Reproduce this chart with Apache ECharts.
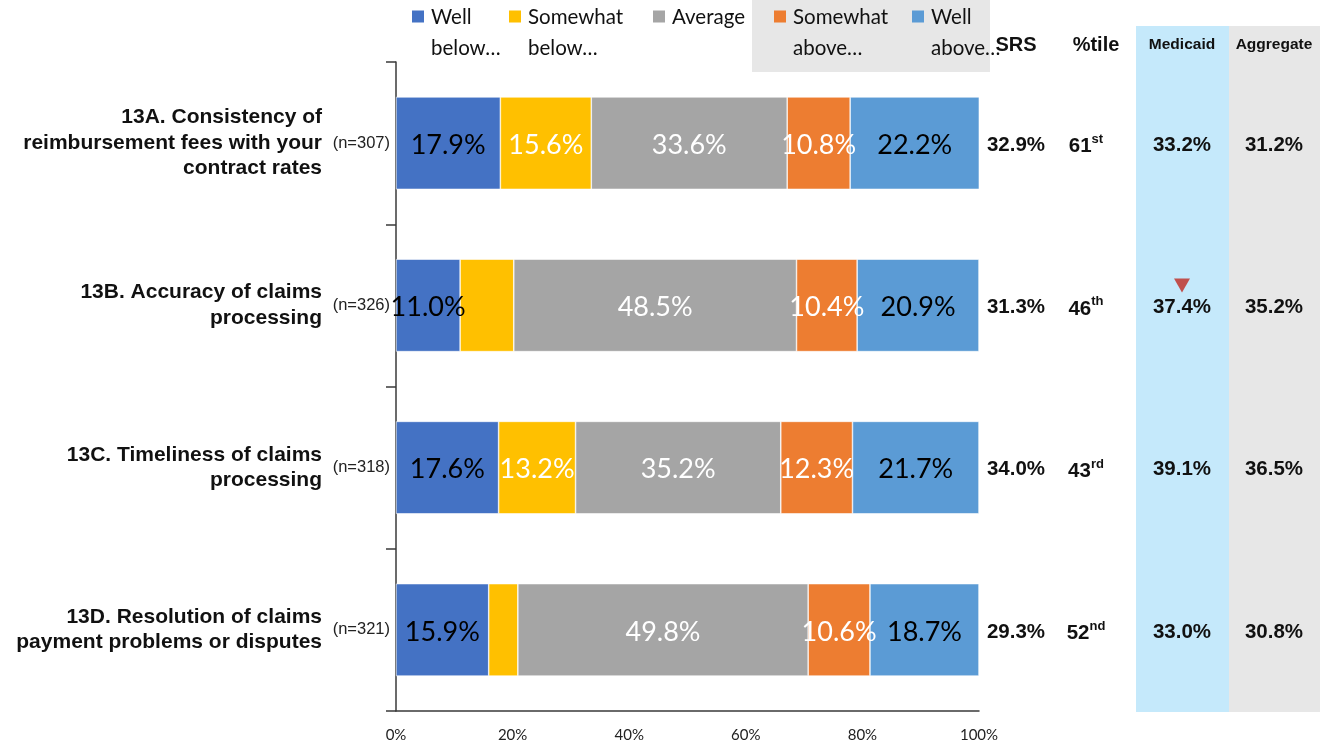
<!DOCTYPE html>
<html>
<head>
<meta charset="utf-8">
<script src="https://cdn.jsdelivr.net/npm/echarts@6/dist/echarts.min.js"></script>
<style>
html, body { margin: 0; padding: 0; background: #ffffff; }
#chart { width: 1320px; height: 745px; }
</style>
</head>
<body>
<div id="chart"></div>
<script>
// Question labels and sample sizes
const categories = [
  '13A. Consistency of\nreimbursement fees with your\ncontract rates',
  '13B. Accuracy of claims\nprocessing',
  '13C. Timeliness of claims\nprocessing',
  '13D. Resolution of claims\npayment problems or disputes'
];
const sampleSizes = ['(n=307)', '(n=326)', '(n=318)', '(n=321)'];

// Rating series (percent of respondents)
const seriesNames = ['Well below average', 'Somewhat below average', 'Average', 'Somewhat above average', 'Well above average'];
const legendLabels = ['Well\nbelow…', 'Somewhat\nbelow…', 'Average\n ', 'Somewhat\nabove…', 'Well\nabove…'];
const wellBelow = [17.9, 11.0, 17.6, 15.9];
const somewhatBelow = [15.6, 9.2, 13.2, 5.0];
const average = [33.6, 48.5, 35.2, 49.8];
const somewhatAbove = [10.8, 10.4, 12.3, 10.6];
const wellAbove = [22.2, 20.9, 21.7, 18.7];

// Summary columns
const srs = ['32.9%', '31.3%', '34.0%', '29.3%'];
const percentile = ['61', '46', '43', '52'];
const percentileSuffix = ['st', 'th', 'rd', 'nd'];
const medicaid = ['33.2%', '37.4%', '39.1%', '33.0%'];
const medicaidDown = [false, true, false, false];
const aggregate = ['31.2%', '35.2%', '36.5%', '30.8%'];
const columnHeaders = ['SRS', '%tile', 'Medicaid', 'Aggregate'];

// Axis ticks
const xMin = 0, xMax = 100, xStep = 20;

const seriesValues = [wellBelow, somewhatBelow, average, somewhatAbove, wellAbove];
const colors = ['#4472C4', '#FFC000', '#A5A5A5', '#ED7D31', '#5B9BD5'];
const labelColors = ['#000000', '#ffffff', '#ffffff', '#ffffff', '#000000'];
const legendLefts = [412, 509, 653, 774, 912];

const chart = echarts.init(document.getElementById('chart'), null, { renderer: 'canvas' });

// Square swatch sitting at the top of a taller icon box, so it lines up with the first text line
const legendIcon = 'path://M0,0L12,0L12,12L0,12Z M0,45L12,45';

const option = {
  animation: false,
  color: colors,
  grid: { left: 396, right: 341, top: 62, bottom: 34, containLabel: false },
  legend: seriesNames.map((name, i) => ({
    data: [name],
    left: legendLefts[i],
    top: 2,
    orient: 'horizontal',
    icon: legendIcon,
    itemWidth: 12,
    itemHeight: 45,
    itemGap: 0,
    padding: 0,
    selectedMode: false,
    itemStyle: { borderWidth: 0 },
    formatter: () => legendLabels[i],
    textStyle: { fontFamily: 'Lato', fontSize: 20.5, lineHeight: 31, color: '#111111', padding: [0, 0, 0, 2] }
  })),
  xAxis: {
    type: 'value',
    min: xMin,
    max: xMax,
    interval: xStep,
    axisLine: { show: true, lineStyle: { color: '#3a3a3a', width: 1.5 } },
    axisTick: { show: false },
    splitLine: { show: false },
    axisLabel: { formatter: '{value}%', fontFamily: 'Lato', fontSize: 15, color: '#222222', margin: 17 }
  },
  yAxis: [
    {
      type: 'category',
      inverse: true,
      data: categories,
      axisLine: { show: true, lineStyle: { color: '#3a3a3a', width: 1.5 } },
      axisTick: { show: true, length: 10, lineStyle: { color: '#3a3a3a', width: 1.5 } },
      axisLabel: {
        margin: 74,
        fontFamily: 'Liberation Sans, Arial, sans-serif',
        fontWeight: 'bold',
        fontSize: 21,
        lineHeight: 25.5,
        padding: [12, 0, 0, 0],
        color: '#111111',
        align: 'right'
      }
    },
    {
      type: 'category',
      inverse: true,
      position: 'left',
      data: sampleSizes,
      axisLine: { show: false },
      axisTick: { show: false },
      axisLabel: {
        margin: 6,
        fontFamily: 'Liberation Sans, Arial, sans-serif',
        fontSize: 16.5,
        padding: [10, 0, 0, 0],
        color: '#222222'
      }
    }
  ],
  series: seriesNames.map((name, i) => ({
    name: name,
    type: 'bar',
    stack: 'total',
    yAxisIndex: 0,
    barCategoryGap: '43%',
    data: seriesValues[i],
    itemStyle: { color: colors[i], borderColor: '#ffffff', borderWidth: 0.6 },
    label: {
      show: true,
      position: 'inside',
      offset: [0, 2],
      fontFamily: 'Lato',
      fontSize: 27,
      color: labelColors[i],
      formatter: (p) => (p.value < 10 ? '' : p.value.toFixed(1) + '%')
    }
  }))
};

chart.setOption(option);

// Summary columns and their backgrounds, placed on the category rows
const colX = { srs: 1016, pct: 1086, medicaid: 1182, aggregate: 1274 };
const headerX = [1016, 1096, 1182, 1274];
const headerY = 45;
const rowY = categories.map((c) => chart.convertToPixel({ yAxisIndex: 0 }, c) + 2);
const boldFont = 'Liberation Sans, Arial, sans-serif';

const graphics = [
  { type: 'rect', z: -5, shape: { x: 752, y: 0, width: 238, height: 72 }, style: { fill: '#E7E7E7' } },
  { type: 'rect', z: -5, shape: { x: 1136, y: 26, width: 93, height: 686 }, style: { fill: '#C5E9FB' } },
  { type: 'rect', z: -5, shape: { x: 1229, y: 26, width: 91, height: 686 }, style: { fill: '#E7E7E7' } }
];

columnHeaders.forEach((h, i) => {
  const small = i >= 2;
  graphics.push({
    type: 'text', z: 10,
    x: headerX[i], y: headerY,
    style: {
      text: h, fontFamily: boldFont, fontWeight: 'bold',
      fontSize: small ? 15.5 : 20, fill: '#111111',
      align: 'center', verticalAlign: 'middle'
    }
  });
});

rowY.forEach((y, r) => {
  const cell = (x, text) => ({
    type: 'text', z: 10, x: x, y: y,
    style: { text: text, fontFamily: boldFont, fontWeight: 'bold', fontSize: 20.5, fill: '#111111', align: 'center', verticalAlign: 'middle' }
  });
  graphics.push(cell(colX.srs, srs[r]));
  graphics.push(cell(colX.medicaid, medicaid[r]));
  graphics.push(cell(colX.aggregate, aggregate[r]));
  graphics.push({
    type: 'text', z: 10, x: colX.pct, y: y,
    style: {
      text: '{n|' + percentile[r] + '}{s|' + percentileSuffix[r] + '}',
      align: 'center', verticalAlign: 'middle',
      rich: {
        n: { fontFamily: boldFont, fontWeight: 'bold', fontSize: 20.5, fill: '#111111', verticalAlign: 'bottom', lineHeight: 24 },
        s: { fontFamily: boldFont, fontWeight: 'bold', fontSize: 13, fill: '#111111', verticalAlign: 'top', lineHeight: 24 }
      }
    }
  });
  if (medicaidDown[r]) {
    const cy = y - 22;
    graphics.push({
      type: 'polygon', z: 10,
      shape: { points: [[colX.medicaid - 8, cy - 7], [colX.medicaid + 8, cy - 7], [colX.medicaid, cy + 7]] },
      style: { fill: '#C0504D' }
    });
  }
});

chart.setOption({ graphic: graphics });
</script>
</body>
</html>
